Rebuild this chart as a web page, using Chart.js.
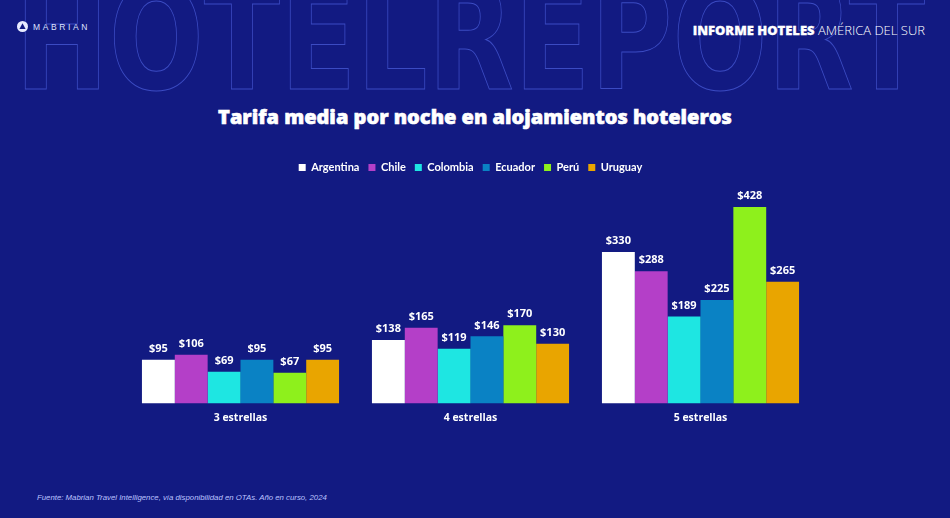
<!DOCTYPE html>
<html>
<head>
<meta charset="utf-8">
<script src="https://cdn.jsdelivr.net/npm/chart.js@4.4.1/dist/chart.umd.min.js"></script>
<style>
  html, body { margin: 0; padding: 0; }
  body { width: 950px; height: 518px; background: #121a82; position: relative; overflow: hidden; font-family: "Open Sans", "Liberation Sans", sans-serif; }
  #bgword { position: absolute; left: 0; top: 0; }
  #logo { position: absolute; left: 17px; top: 21px; display: flex; align-items: center; color: #dfe3ff; font-family: "Liberation Sans", sans-serif; font-size: 8.5px; letter-spacing: 2.6px; }
  #logo svg { margin-right: 5px; }
  #hdr { position: absolute; right: 25px; top: 21px; color: #fff; font-size: 13px; white-space: nowrap; }
  #hdr b { font-weight: 800; -webkit-text-stroke: 0.3px #fff; }
  #hdr span { font-weight: 300; }
  #title { position: absolute; left: 0; width: 950px; top: 103px; text-align: center; color: #fff; font-family: "Open Sans", sans-serif; font-weight: 800; font-size: 20px; -webkit-text-stroke: 0.6px #fff; }
  #src { position: absolute; left: 37px; top: 493px; color: #bcc3ff; font-style: italic; font-family: "Liberation Sans", sans-serif; font-size: 7.8px; }
  #wrap { position: absolute; left: 0; top: 153px; width: 940px; height: 279px; }
</style>
</head>
<body>
<svg id="bgword" width="950" height="100">
  <text x="15" y="89" textLength="910" lengthAdjust="spacingAndGlyphs" font-family="DejaVu Sans" font-weight="bold" font-size="145" fill="none" stroke="#3b4bc2" stroke-width="1">HOTELREPORT</text>
</svg>
<div id="logo">
  <svg width="11" height="11" viewBox="0 0 11 11"><circle cx="5.5" cy="5.5" r="5.5" fill="#e8ebff"/><path d="M5.5 2.3 L8.6 7.9 L2.4 7.9 Z" fill="#121a82"/></svg>
  MABRIAN
</div>
<div id="hdr"><b>INFORME HOTELES</b> <span>AMÉRICA DEL SUR</span></div>
<div id="title">Tarifa media por noche en alojamientos hoteleros</div>
<div id="wrap"><canvas id="c"></canvas></div>
<div id="src">Fuente: Mabrian Travel Intelligence, vía disponibilidad en OTAs. Año en curso, 2024</div>
<script>
const categories = ["3 estrellas", "4 estrellas", "5 estrellas"];
const argentina = [95, 138, 330];
const chile     = [106, 165, 288];
const colombia  = [69, 119, 189];
const ecuador   = [95, 146, 225];
const peru      = [67, 170, 428];
const uruguay   = [95, 130, 265];

const seriesNames  = ["Argentina", "Chile", "Colombia", "Ecuador", "Perú", "Uruguay"];
const seriesValues = [argentina, chile, colombia, ecuador, peru, uruguay];
const seriesColors = ["#ffffff", "#b43fc8", "#1ee6e2", "#0a82c4", "#8ef01c", "#e9a500"];

const valueLabels = {
  id: "valueLabels",
  afterDatasetsDraw(chart) {
    const ctx = chart.ctx;
    ctx.save();
    ctx.fillStyle = "#ffffff";
    ctx.font = "bold 11px 'Open Sans', sans-serif";
    ctx.textAlign = "center";
    ctx.textBaseline = "middle";
    chart.data.datasets.forEach((ds, di) => {
      const meta = chart.getDatasetMeta(di);
      meta.data.forEach((bar, i) => {
        ctx.fillText("$" + ds.data[i], bar.x, bar.y - 11);
      });
    });
    ctx.restore();
  }
};

new Chart(document.getElementById("c"), {
  type: "bar",
  data: {
    labels: categories,
    datasets: seriesNames.map((n, i) => ({
      label: n,
      data: seriesValues[i],
      backgroundColor: seriesColors[i],
      borderWidth: 0,
      categoryPercentage: 0.857,
      barPercentage: 1.0
    }))
  },
  options: {
    responsive: true,
    maintainAspectRatio: false,
    animation: false,
    layout: { padding: { left: 125.5, right: 124.5, top: 0, bottom: 0 } },
    plugins: {
      legend: {
        position: "top",
        labels: {
          color: "#ffffff",
          boxWidth: 7, boxHeight: 7,
          padding: 9,
          font: { family: "Lato, sans-serif", weight: "bold", size: 11 }
        }
      },
      tooltip: { enabled: false }
    },
    scales: {
      x: {
        grid: { display: false, drawTicks: false },
        border: { display: false },
        ticks: { color: "#ffffff", padding: 8, font: { family: "'Open Sans', sans-serif", weight: "bold", size: 10.5 } }
      },
      y: {
        display: false,
        min: 0, max: 480,
        grid: { display: false }
      }
    }
  },
  plugins: [valueLabels]
});
</script>
</body>
</html>
